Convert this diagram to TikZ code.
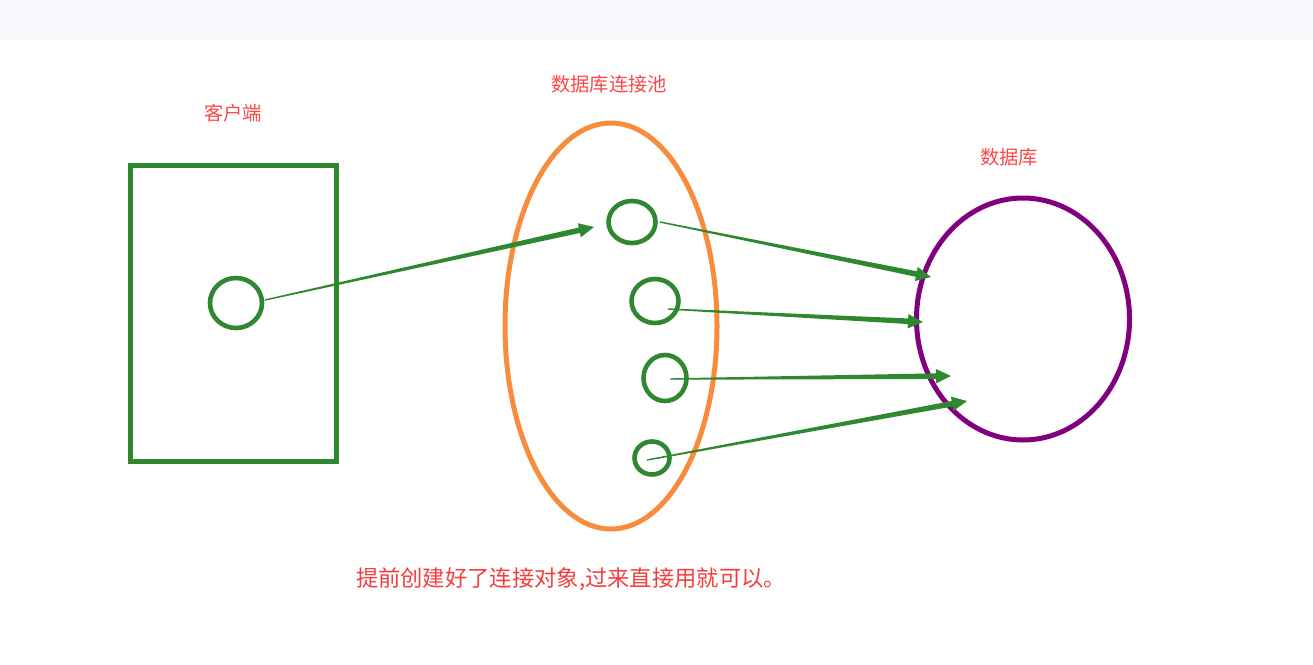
\documentclass[tikz,border=0pt]{standalone}
\usepackage{fontspec}
\newfontfamily\cjk{Noto Sans CJK SC}
\usetikzlibrary{shapes.geometric,calc}
\definecolor{gr}{RGB}{47,136,47}
\definecolor{orng}{RGB}{249,140,60}
\definecolor{purp}{RGB}{128,0,128}
\definecolor{lbl}{RGB}{250,72,72}
\definecolor{band}{RGB}{249,250,254}
\tikzset{
  ring/.style={ellipse,draw=gr,line width=4.6pt,inner sep=0pt},
  lab/.style={text=lbl,font=\cjk\fontsize{19.3}{22}\selectfont,inner sep=0pt},
}
\newcommand\taperarrow[2]{%
  \coordinate (hh) at ($(#2)!15pt!(#1)$);
  \fill[gr] ($(#1)!0.7pt!90:(#2)$) -- ($(hh)!2.8pt!-90:(#1)$) -- ($(hh)!7.2pt!-90:(#1)$) -- (#2)
    -- ($(hh)!7.2pt!90:(#1)$) -- ($(hh)!2.8pt!90:(#1)$) -- ($(#1)!0.7pt!-90:(#2)$) -- cycle;
}
\begin{document}
\begin{tikzpicture}[x=1pt,y=-1pt]
\useasboundingbox (0,0) rectangle (1313,664);
\fill[band] (0,0) rectangle (1313,40);
% client box
\node[draw=gr,line width=5pt,minimum width=206pt,minimum height=296pt,inner sep=0pt] (client) at (233,313) {};
\node[ring,minimum width=52pt,minimum height=50pt] (c0) at (236,303) {};
% pool
\node[ellipse,draw=orng,line width=5pt,minimum width=212pt,minimum height=406pt,inner sep=0pt] (pool) at (611,326) {};
\node[ring,minimum width=47pt,minimum height=42pt] (p1) at (632,222) {};
\node[ring,minimum width=47pt,minimum height=44pt] (p2) at (655,301) {};
\node[ring,minimum width=43pt,minimum height=46pt] (p3) at (665,378) {};
\node[ring,minimum width=35pt,minimum height=33pt] (p4) at (652,458) {};
% database
\node[ellipse,draw=purp,line width=5pt,minimum width=213pt,minimum height=242pt,inner sep=0pt] (db) at (1023,319) {};
% labels
\node[lab] (lclient) at (233,113) {客户端};
\node[lab] (lpool) at (609,84) {数据库连接池};
\node[lab] (ldb) at (1009,157) {数据库};
\node[lab,font=\cjk\fontsize{22.3}{26}\selectfont,text={rgb,255:red,245;green,60;blue,60}] (note) at (571,579) {提前创建好了连接对象,过来直接用就可以。};
% arrow endpoints
\coordinate (s0) at (265,300); \coordinate (e0) at (594,227);
\coordinate (s1) at (660,222); \coordinate (e1) at (931,277);
\coordinate (s2) at (668,309); \coordinate (e2) at (923,322);
\coordinate (s3) at (670,379); \coordinate (e3) at (951,376);
\coordinate (s4) at (647,460); \coordinate (e4) at (967,401);
\taperarrow{s0}{e0}
\taperarrow{s1}{e1}
\taperarrow{s2}{e2}
\taperarrow{s3}{e3}
\taperarrow{s4}{e4}
\end{tikzpicture}
\end{document}
